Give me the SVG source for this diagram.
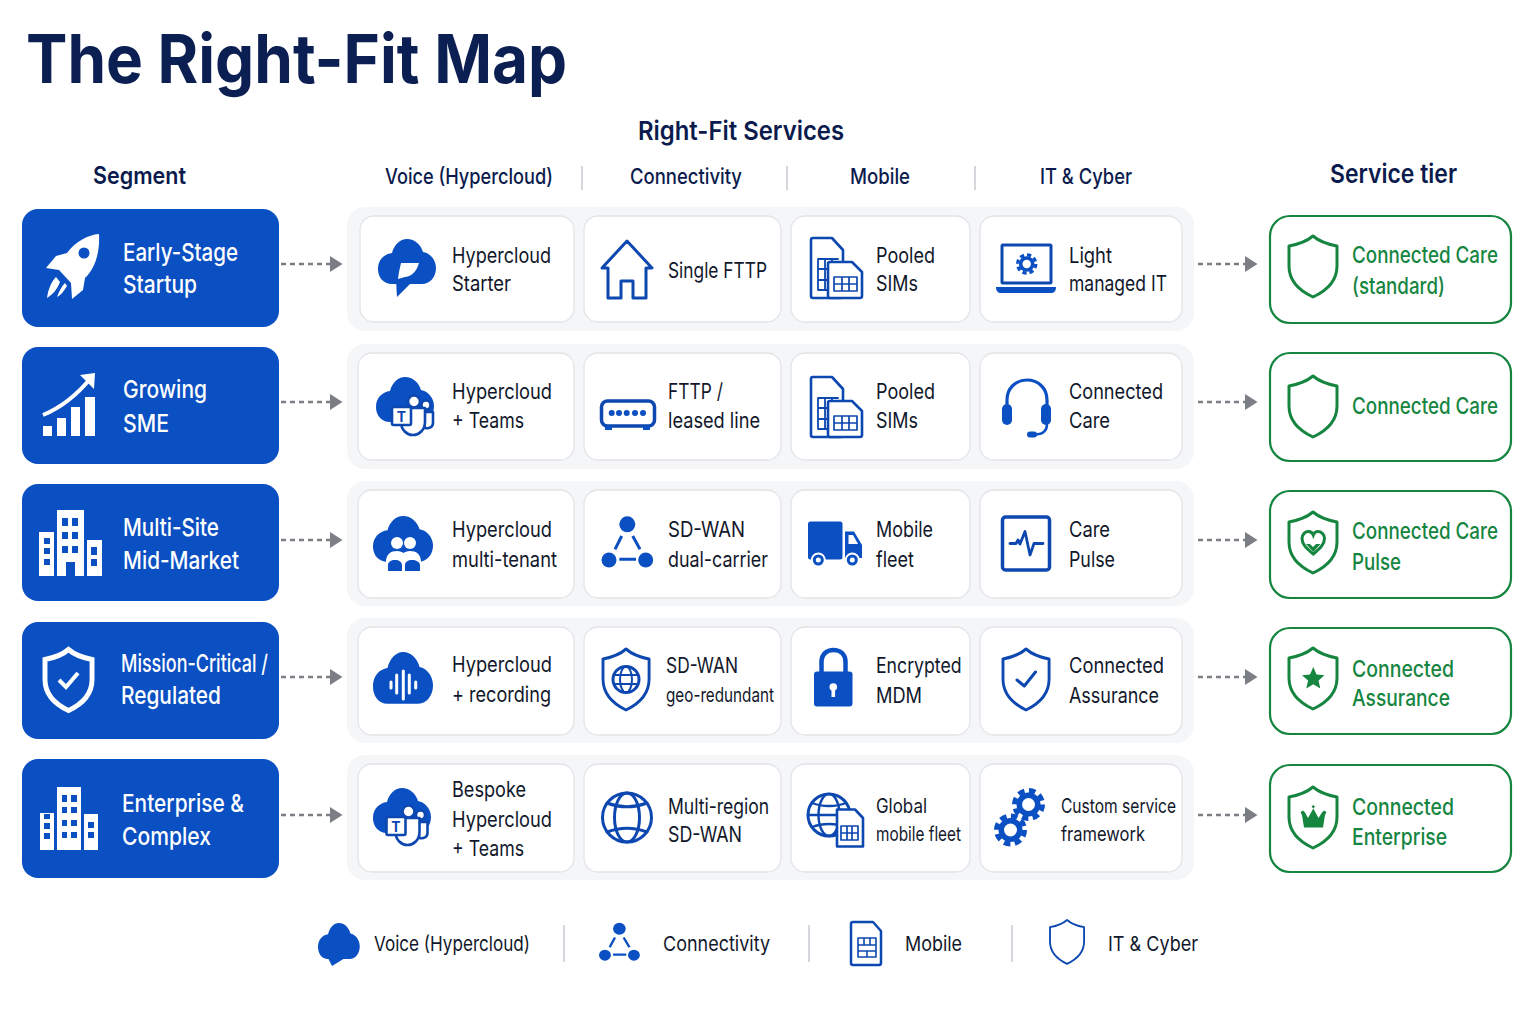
<svg xmlns="http://www.w3.org/2000/svg" width="1536" height="1024" viewBox="0 0 1536 1024">
<style>
text{font-family:"Inter","Liberation Sans",sans-serif}
.title{font-size:67px;font-weight:700;fill:#0b1f52}
.h1{font-size:26px;font-weight:600;fill:#0b1b4d}
.h2{font-size:22px;font-weight:500;fill:#0b1b4d}
.seg{font-size:24.500px;font-weight:500;fill:#fff}
.c{font-size:21.500px;font-weight:400;fill:#12182b}
.t{font-size:23px;font-weight:500;fill:#15853f}
.l{font-size:20.500px;font-weight:400;fill:#12182b}
.segbox{fill:#0b50c2}
.row{fill:#f4f6f8}
.card{fill:#fff;stroke:#e2e4e8;stroke-width:1.300}
.tier{fill:#fff;stroke:#15853f;stroke-width:2.200}
.sep{stroke:#c6cacf;stroke-width:1.500}
.conn{stroke:#7b7e85;stroke-width:2.500;stroke-dasharray:5 4;fill:none}
.b{fill:#0b50c2}
.bs{fill:none;stroke:#0d47b0;stroke-width:3;stroke-linejoin:round;stroke-linecap:round}
.bw{fill:#fff;stroke:#0d47b0;stroke-width:2.600;stroke-linejoin:round}
.g{fill:none;stroke:#15853f;stroke-width:3;stroke-linejoin:round}
.gf{fill:#15853f}
.w{fill:#fff}
</style>
<defs>
<marker id="arr" markerUnits="userSpaceOnUse" markerWidth="14" markerHeight="18" refX="1" refY="8" orient="auto"><path d="M0 0L12.500 8L0 16Z" fill="#7b7e85"/></marker>
<path id="shield" d="M24 0C31 6 40 8.500 48 10V30C48 45 37 55 24 61C11 55 0 45 0 30V10C8 8.500 17 6 24 0Z"/>
<path id="cloud" d="M14 45C5 45 0 38 0 30C0 21 6 15 14 14C16 6 22 0 29 0C37 0 43 6 45 13C52 14 58 21 58 29C58 38 52 45 44 45Z"/>
<g id="sim">
<path class="bs" style="stroke-width:2.600" d="M813 238H832L843 250V296Q843 298 841 298H813Q811 298 811 296V240Q811 238 813 238Z"/>
<path class="bs" style="stroke-width:1.800" d="M818 259H838M818 259V290H828M818 269H828M818 280H828M825 259V290M832 259V266"/>
<path class="bw" d="M830 262H852L862 272V296Q862 298 860 298H830Q828 298 828 296V264Q828 262 830 262Z"/>
<path class="bs" style="stroke-width:1.700" d="M834 277H857V291H834ZM834 284H857M842 277V291M849 277V291"/>
</g>
<g id="teams">
<circle class="bw" cx="34" cy="-2" r="4.500"/>
<path class="bw" d="M30 5H41V16C41 20 37 22 33 21Z"/>
<circle class="bw" cx="22" cy="-5.500" r="6"/>
<path class="bw" d="M9 1H33V15C33 23 27 28 21 28C15 28 9 23 9 15Z"/>
<rect class="bw" x="0" y="0" width="19" height="18" rx="1.500"/>
<text x="9.500" y="14.500" text-anchor="middle" style="font-size:14px;font-weight:700;fill:#0d47b0">T</text>
</g>
<g id="net">
<circle class="b" cx="25.800" cy="7.800" r="8"/><circle class="b" cx="7.500" cy="43.500" r="7.500"/><circle class="b" cx="44.200" cy="43.500" r="7.500"/>
<path d="M20.200 19.500L13.500 32.800M31.200 19.500L38.500 32.800M17.800 42.800H34.500" fill="none" stroke="#0b50c2" stroke-width="3"/>
</g>
<g id="gear">
<circle class="b" r="12"/>
<circle r="14" fill="none" stroke="#0b50c2" stroke-width="5" stroke-dasharray="6.500 4.500"/>
<circle class="w" r="6.500"/>
</g>
</defs>
<rect width="1536" height="1024" fill="#fff"/>

<g id="headers">
<text class="title" x="26" y="83" textLength="541" lengthAdjust="spacingAndGlyphs">The Right-Fit Map</text>
<text class="h1" x="638" y="140" textLength="206" lengthAdjust="spacingAndGlyphs">Right-Fit Services</text>
<text class="h1" x="93" y="184" textLength="93" lengthAdjust="spacingAndGlyphs" style="font-size:24px">Segment</text>
<text class="h2" x="385" y="184" textLength="168" lengthAdjust="spacingAndGlyphs">Voice (Hypercloud)</text>
<text class="h2" x="630" y="184" textLength="112" lengthAdjust="spacingAndGlyphs">Connectivity</text>
<text class="h2" x="850" y="184" textLength="60" lengthAdjust="spacingAndGlyphs">Mobile</text>
<text class="h2" x="1040" y="184" textLength="92" lengthAdjust="spacingAndGlyphs">IT &amp; Cyber</text>
<text class="h1" x="1330" y="183" textLength="127" lengthAdjust="spacingAndGlyphs">Service tier</text>
<path class="sep" d="M582 166V190M787 166V190M975 166V190"/>
</g>

<g id="row-bands">
<rect class="row" x="347" y="207" width="847" height="124" rx="18"/>
<rect class="row" x="347" y="344" width="847" height="125" rx="18"/>
<rect class="row" x="347" y="481" width="847" height="125" rx="18"/>
<rect class="row" x="347" y="618" width="847" height="125" rx="18"/>
<rect class="row" x="347" y="755" width="847" height="125" rx="18"/>
</g>

<g id="connectors">
<path class="conn" marker-end="url(#arr)" d="M281 264H331"/>
<path class="conn" marker-end="url(#arr)" d="M281 402H331"/>
<path class="conn" marker-end="url(#arr)" d="M281 540H331"/>
<path class="conn" marker-end="url(#arr)" d="M281 677H331"/>
<path class="conn" marker-end="url(#arr)" d="M281 815H331"/>
<path class="conn" marker-end="url(#arr)" d="M1198 264H1246"/>
<path class="conn" marker-end="url(#arr)" d="M1198 402H1246"/>
<path class="conn" marker-end="url(#arr)" d="M1198 540H1246"/>
<path class="conn" marker-end="url(#arr)" d="M1198 677H1246"/>
<path class="conn" marker-end="url(#arr)" d="M1198 815H1246"/>
</g>

<g id="seg-early">
<rect class="segbox" x="22" y="209" width="257" height="118" rx="16"/>
<path class="w" d="M99 234C88 235 76 241 67 253L56 256L46 268L59 270L71 283L72 299L83 290L85 278C96 268 100 250 99 234Z"/>
<circle class="b" cx="84" cy="253" r="5.500"/>
<path class="w" d="M47 298C48 290 51 282 56 277L60 282C57 290 52 295 47 298ZM57 297C59 291 62 286 65 283L67 286C64 291 61 295 57 297Z"/>
<text class="seg" x="123" y="261" textLength="115" lengthAdjust="spacingAndGlyphs">Early-Stage</text>
<text class="seg" x="123" y="293" textLength="74" lengthAdjust="spacingAndGlyphs">Startup</text>
</g>
<g id="seg-growing">
<rect class="segbox" x="22" y="347" width="257" height="117" rx="16"/>
<path class="w" d="M43 426H52V436H43ZM57 418H66V436H57ZM71 407H80V436H71ZM85 397H95V436H85Z"/>
<path d="M43 415C60 408 75 397 90 379" fill="none" stroke="#fff" stroke-width="4"/>
<path class="w" d="M95 373L80 375L94 389Z"/>
<text class="seg" x="123" y="398" textLength="84" lengthAdjust="spacingAndGlyphs">Growing</text>
<text class="seg" x="123" y="432" textLength="46" lengthAdjust="spacingAndGlyphs">SME</text>
</g>
<g id="seg-multisite">
<rect class="segbox" x="22" y="484" width="257" height="117" rx="16"/>
<path class="w" d="M39 532H54V576H39ZM57 510H84V576H75V562H66V576H57ZM87 540H102V576H87Z"/>
<path class="b" d="M62 518H68V526H62ZM72 518H78V526H72ZM62 532H68V539H62ZM72 532H78V539H72ZM62 546H68V553H62ZM72 546H78V553H72ZM44 538H50V544H44ZM44 548H50V554H44ZM44 559H50V565H44ZM91 547H97V555H91ZM91 559H97V566H91Z"/>
<text class="seg" x="123" y="536" textLength="96" lengthAdjust="spacingAndGlyphs">Multi-Site</text>
<text class="seg" x="123" y="569" textLength="116" lengthAdjust="spacingAndGlyphs">Mid-Market</text>
</g>
<g id="seg-mission">
<rect class="segbox" x="22" y="622" width="257" height="117" rx="16"/>
<use href="#shield" transform="translate(45 649.500) scale(.980 1)" fill="none" stroke="#fff" stroke-width="5"/>
<path d="M59 680L66 687L78 673" fill="none" stroke="#fff" stroke-width="4"/>
<text class="seg" x="121" y="672" textLength="147" lengthAdjust="spacingAndGlyphs">Mission-Critical /</text>
<text class="seg" x="121" y="704" textLength="100" lengthAdjust="spacingAndGlyphs">Regulated</text>
</g>
<g id="seg-enterprise">
<rect class="segbox" x="22" y="759" width="257" height="119" rx="16"/>
<path class="w" d="M40 813H54V850H40ZM57 787H81V850H57ZM84 814H98V850H84Z"/>
<path class="b" d="M62 795H67V802H62ZM71 795H77V802H71ZM62 807H67V813H62ZM71 807H77V813H71ZM62 820H67V826H62ZM71 820H77V826H71ZM62 832H67V838H62ZM71 832H77V838H71ZM44 814H50V819H44ZM44 823H50V829H44ZM44 833H50V839H44ZM88 822H94V828H88ZM88 832H94V838H88Z"/>
<text class="seg" x="122" y="812" textLength="122" lengthAdjust="spacingAndGlyphs">Enterprise &amp;</text>
<text class="seg" x="122" y="845" textLength="89" lengthAdjust="spacingAndGlyphs">Complex</text>
</g>

<g id="svc-r1-voice">
<rect class="card" x="360" y="216" width="214" height="106" rx="14"/>
<use href="#cloud" class="b" x="378" y="239"/>
<path class="b" d="M396 280L397 297L412 282Z"/>
<path class="w" d="M401 263L419 263C417 270 413 276 405 277L398 279L399 272Z"/>
<text class="c" x="452" y="262.500" textLength="99" lengthAdjust="spacingAndGlyphs">Hypercloud</text>
<text class="c" x="452" y="291" textLength="59" lengthAdjust="spacingAndGlyphs">Starter</text>
</g>
<g id="svc-r1-conn">
<rect class="card" x="584" y="216" width="197" height="106" rx="14"/>
<path class="bs" d="M608 268H602L627 241L652 268H646V298H633V281H621V298H608Z"/>
<text class="c" x="668" y="277.500" textLength="99" lengthAdjust="spacingAndGlyphs">Single FTTP</text>
</g>
<g id="svc-r1-mobile">
<rect class="card" x="791" y="216" width="179" height="106" rx="14"/>
<use href="#sim"/>
<text class="c" x="876" y="262.500" textLength="59" lengthAdjust="spacingAndGlyphs">Pooled</text>
<text class="c" x="876" y="291" textLength="42" lengthAdjust="spacingAndGlyphs">SIMs</text>
</g>
<g id="svc-r1-it">
<rect class="card" x="980" y="216" width="202" height="106" rx="14"/>
<rect class="bs" x="1002" y="245" width="49" height="38" rx="1"/>
<path class="b" d="M996 287H1056C1056 291 1054 293 1051 293H1001C998 293 996 291 996 287Z"/>
<use href="#gear" transform="translate(1026.700 264) scale(.650)"/>
<text class="c" x="1069" y="262.500" textLength="43" lengthAdjust="spacingAndGlyphs">Light</text>
<text class="c" x="1069" y="291" textLength="98" lengthAdjust="spacingAndGlyphs">managed IT</text>
</g>

<g id="svc-r2-voice">
<rect class="card" x="358" y="353" width="216" height="107" rx="14"/>
<use href="#cloud" class="b" x="376" y="377"/>
<use href="#teams" transform="translate(392 407)"/>
<text class="c" x="452" y="399" textLength="100" lengthAdjust="spacingAndGlyphs">Hypercloud</text>
<text class="c" x="452" y="428" textLength="72" lengthAdjust="spacingAndGlyphs">+ Teams</text>
</g>
<g id="svc-r2-conn">
<rect class="card" x="584" y="353" width="197" height="107" rx="14"/>
<rect x="601.500" y="401" width="53" height="25" rx="6" fill="none" stroke="#0d47b0" stroke-width="3.500"/>
<path class="b" d="M605 426H612V430H605ZM643 426H650V430H643Z"/>
<g class="b"><circle cx="611.700" cy="413" r="3"/><circle cx="619" cy="413" r="3"/><circle cx="626.700" cy="413" r="3"/><circle cx="635" cy="413" r="3"/><circle cx="643" cy="413" r="3"/></g>
<text class="c" x="668" y="399" textLength="55" lengthAdjust="spacingAndGlyphs">FTTP /</text>
<text class="c" x="668" y="428" textLength="92" lengthAdjust="spacingAndGlyphs">leased line</text>
</g>
<g id="svc-r2-mobile">
<rect class="card" x="791" y="353" width="179" height="107" rx="14"/>
<use href="#sim" y="139"/>
<text class="c" x="876" y="399" textLength="59" lengthAdjust="spacingAndGlyphs">Pooled</text>
<text class="c" x="876" y="428" textLength="42" lengthAdjust="spacingAndGlyphs">SIMs</text>
</g>
<g id="svc-r2-it">
<rect class="card" x="980" y="353" width="202" height="107" rx="14"/>
<path d="M1007 406V400C1007 388 1016 380 1027 380C1038 380 1047 388 1047 400V406" fill="none" stroke="#0b50c2" stroke-width="3.200"/>
<rect class="b" x="1002" y="404" width="10" height="21" rx="5"/>
<rect class="b" x="1041" y="404" width="10" height="21" rx="5"/>
<path d="M1047 424C1047 431 1043 434 1036 434.500" fill="none" stroke="#0b50c2" stroke-width="2.500"/>
<rect class="b" x="1027" y="431.500" width="10" height="6" rx="3"/>
<text class="c" x="1069" y="399" textLength="94" lengthAdjust="spacingAndGlyphs">Connected</text>
<text class="c" x="1069" y="428" textLength="41" lengthAdjust="spacingAndGlyphs">Care</text>
</g>

<g id="svc-r3-voice">
<rect class="card" x="358" y="490" width="216" height="108" rx="14"/>
<use href="#cloud" class="b" transform="translate(373 516) scale(1.035 1.020)"/>
<circle class="w" cx="397" cy="543" r="6"/><circle class="w" cx="410" cy="543" r="6"/>
<path class="w" d="M386 562C386 554 391 551 397 551C400 551 402 552 403.500 553C405 552 407 551 410 551C416 551 421 554 421 562Z"/>
<path class="b" d="M388 571V565C388 562 391 560 395 560C399 560 402 562 402 565V571ZM405 571V565C405 562 408 560 412 560C416 560 420 562 420 565V571Z"/>
<text class="c" x="452" y="537" textLength="100" lengthAdjust="spacingAndGlyphs">Hypercloud</text>
<text class="c" x="452" y="566.500" textLength="105" lengthAdjust="spacingAndGlyphs">multi-tenant</text>
</g>
<g id="svc-r3-conn">
<rect class="card" x="584" y="490" width="197" height="108" rx="14"/>
<use href="#net" x="601.500" y="516.500"/>
<text class="c" x="668" y="537" textLength="77" lengthAdjust="spacingAndGlyphs">SD-WAN</text>
<text class="c" x="668" y="567" textLength="100" lengthAdjust="spacingAndGlyphs">dual-carrier</text>
</g>
<g id="svc-r3-mobile">
<rect class="card" x="791" y="490" width="179" height="108" rx="14"/>
<rect class="b" x="808" y="521.500" width="34.500" height="38" rx="2.500"/>
<path class="b" d="M845 531.500H854L862 545V558H845Z"/>
<path class="w" d="M848.500 535H853L858 544H848.500Z"/>
<circle class="b" cx="818.300" cy="560" r="6.500" stroke="#fff" stroke-width="2"/><circle class="w" cx="818.300" cy="560" r="2.500"/>
<circle class="b" cx="852.300" cy="560" r="6.500" stroke="#fff" stroke-width="2"/><circle class="w" cx="852.300" cy="560" r="2.500"/>
<text class="c" x="876" y="537" textLength="57" lengthAdjust="spacingAndGlyphs">Mobile</text>
<text class="c" x="876" y="567" textLength="38" lengthAdjust="spacingAndGlyphs">fleet</text>
</g>
<g id="svc-r3-it">
<rect class="card" x="980" y="490" width="202" height="108" rx="14"/>
<rect class="bs" style="stroke-width:3.500" x="1002.500" y="517" width="47" height="53" rx="3"/>
<path class="bs" style="stroke-width:2.800" d="M1010 543.500H1016L1018 540L1020 544L1025 531.500L1030 555L1034 543.500H1043"/>
<text class="c" x="1069" y="537" textLength="41" lengthAdjust="spacingAndGlyphs">Care</text>
<text class="c" x="1069" y="567" textLength="46" lengthAdjust="spacingAndGlyphs">Pulse</text>
</g>

<g id="svc-r4-voice">
<rect class="card" x="358" y="627" width="216" height="108" rx="14"/>
<use href="#cloud" class="b" transform="translate(373 652) scale(1.035 1.150)"/>
<path d="M391 682V688M396.700 675V693M403.300 671V699M409.300 675V693M415.700 682V688" fill="none" stroke="#fff" stroke-width="3" stroke-linecap="round"/>
<text class="c" x="452" y="672" textLength="100" lengthAdjust="spacingAndGlyphs">Hypercloud</text>
<text class="c" x="452" y="702" textLength="99" lengthAdjust="spacingAndGlyphs">+ recording</text>
</g>
<g id="svc-r4-conn">
<rect class="card" x="584" y="627" width="197" height="108" rx="14"/>
<use href="#shield" class="bs" transform="translate(603 649) scale(.960 1)"/>
<circle class="bs" cx="626" cy="679.500" r="13"/>
<ellipse class="bs" style="stroke-width:2" cx="626" cy="679.500" rx="6" ry="13"/>
<path class="bs" style="stroke-width:2" d="M614 675H638M614 684H638"/>
<text class="c" x="666" y="673" textLength="72" lengthAdjust="spacingAndGlyphs">SD-WAN</text>
<text class="c" x="666" y="702" textLength="108" lengthAdjust="spacingAndGlyphs" style="font-size:20px">geo-redundant</text>
</g>
<g id="svc-r4-mobile">
<rect class="card" x="791" y="627" width="179" height="108" rx="14"/>
<path d="M821.500 673V662C821.500 654 827 650 833.300 650C840 650 845.500 654 845.500 662V673" fill="none" stroke="#0b50c2" stroke-width="4.500"/>
<rect class="b" x="814" y="671.500" width="38.500" height="35" rx="3"/>
<circle class="w" cx="833.300" cy="687" r="3.800"/><rect class="w" x="831.500" y="688" width="3.600" height="9"/>
<text class="c" x="876" y="673" textLength="85.500" lengthAdjust="spacingAndGlyphs">Encrypted</text>
<text class="c" x="876" y="703" textLength="46" lengthAdjust="spacingAndGlyphs">MDM</text>
</g>
<g id="svc-r4-it">
<rect class="card" x="980" y="627" width="202" height="108" rx="14"/>
<use href="#shield" class="bs" transform="translate(1003 649) scale(.960 1)"/>
<path class="bs" d="M1017 680L1024.300 686L1035.500 672"/>
<text class="c" x="1069" y="672.500" textLength="95" lengthAdjust="spacingAndGlyphs">Connected</text>
<text class="c" x="1069" y="703" textLength="90" lengthAdjust="spacingAndGlyphs">Assurance</text>
</g>

<g id="svc-r5-voice">
<rect class="card" x="358" y="764" width="216" height="108" rx="14"/>
<use href="#cloud" class="b" x="373" y="788"/>
<use href="#teams" transform="translate(386.500 817)"/>
<text class="c" x="452" y="797" textLength="74" lengthAdjust="spacingAndGlyphs">Bespoke</text>
<text class="c" x="452" y="827" textLength="100" lengthAdjust="spacingAndGlyphs">Hypercloud</text>
<text class="c" x="452" y="856" textLength="72" lengthAdjust="spacingAndGlyphs">+ Teams</text>
</g>
<g id="svc-r5-conn">
<rect class="card" x="584" y="764" width="197" height="108" rx="14"/>
<circle class="bs" cx="627" cy="817.500" r="24.500"/>
<ellipse class="bs" cx="627" cy="817.500" rx="12.500" ry="24.500"/>
<path class="bs" d="M607 803C620 808 634 808 647 803M607 832C620 827 634 827 647 832"/>
<text class="c" x="668" y="814" textLength="101" lengthAdjust="spacingAndGlyphs">Multi-region</text>
<text class="c" x="668" y="842" textLength="74" lengthAdjust="spacingAndGlyphs">SD-WAN</text>
</g>
<g id="svc-r5-mobile">
<rect class="card" x="791" y="764" width="179" height="108" rx="14"/>
<circle class="bs" cx="829" cy="815" r="21"/>
<ellipse class="bs" style="stroke-width:2.400" cx="829" cy="815" rx="10.500" ry="21"/>
<path class="bs" style="stroke-width:2.400" d="M812 803C822 807 836 807 846 803M812 827C822 823 836 823 846 827M808 815H850"/>
<path class="bw" d="M837 809.500H855L863 818V846.500H837Z"/>
<path class="bs" style="stroke-width:1.700" d="M841 826H858V840H841ZM841 833H858M847 826V840M852 826V840"/>
<text class="c" x="876" y="813" textLength="51" lengthAdjust="spacingAndGlyphs" style="font-size:20px">Global</text>
<text class="c" x="876" y="841" textLength="85" lengthAdjust="spacingAndGlyphs" style="font-size:20px">mobile fleet</text>
</g>
<g id="svc-r5-it">
<rect class="card" x="980" y="764" width="202" height="108" rx="14"/>
<use href="#gear" transform="translate(1028.500 804.500)"/>
<use href="#gear" transform="translate(1010.500 830)"/>
<text class="c" x="1061" y="813" textLength="115" lengthAdjust="spacingAndGlyphs" style="font-size:20px">Custom service</text>
<text class="c" x="1061" y="841" textLength="84" lengthAdjust="spacingAndGlyphs" style="font-size:20px">framework</text>
</g>

<g id="tier-1">
<rect class="tier" x="1270" y="216" width="241" height="107" rx="20"/>
<use href="#shield" class="g" x="1289" y="236"/>
<text class="t" x="1352" y="263" textLength="146" lengthAdjust="spacingAndGlyphs">Connected Care</text>
<text class="t" x="1352" y="294" textLength="93" lengthAdjust="spacingAndGlyphs">(standard)</text>
</g>
<g id="tier-2">
<rect class="tier" x="1270" y="353" width="241" height="108" rx="20"/>
<use href="#shield" class="g" x="1289" y="376"/>
<text class="t" x="1352" y="414" textLength="146" lengthAdjust="spacingAndGlyphs">Connected Care</text>
</g>
<g id="tier-3">
<rect class="tier" x="1270" y="491" width="241" height="107" rx="20"/>
<use href="#shield" class="g" x="1289" y="512"/>
<path d="M1313.300 554C1306 548 1302 544 1302 538.500C1302 534 1305.500 531.500 1308.500 531.500C1311 531.500 1312.500 533 1313.300 535C1314 533 1315.500 531.500 1318 531.500C1321 531.500 1324.500 534 1324.500 538.500C1324.500 544 1320.500 548 1313.300 554Z" fill="none" stroke="#15853f" stroke-width="3"/>
<path class="gf" d="M1306 544L1310 544L1313 547L1316 544L1320.500 544L1313.300 552Z"/>
<text class="t" x="1352" y="539" textLength="146" lengthAdjust="spacingAndGlyphs">Connected Care</text>
<text class="t" x="1352" y="570" textLength="49" lengthAdjust="spacingAndGlyphs">Pulse</text>
</g>
<g id="tier-4">
<rect class="tier" x="1270" y="628" width="241" height="106" rx="20"/>
<use href="#shield" class="g" x="1289" y="648"/>
<path class="gf" d="M1313.300 667L1316.500 674.500L1324.500 675.300L1318.500 680.500L1320.300 688.500L1313.300 684.300L1306.300 688.500L1308.100 680.500L1302 675.300L1310 674.500Z"/>
<text class="t" x="1352" y="677" textLength="102" lengthAdjust="spacingAndGlyphs">Connected</text>
<text class="t" x="1352" y="706" textLength="98" lengthAdjust="spacingAndGlyphs">Assurance</text>
</g>
<g id="tier-5">
<rect class="tier" x="1270" y="765" width="241" height="107" rx="20"/>
<use href="#shield" class="g" x="1289" y="787"/>
<path class="gf" d="M1302 815L1300.500 812L1303 810.500L1305 812.500L1308 818L1313.300 808.500L1311.500 806.500L1313.300 805L1315 806.500L1313.300 808.500L1318.500 818L1322 812.500L1324 810.500L1326.500 812L1325 815L1323 827.500H1304Z"/>
<text class="t" x="1352" y="815" textLength="102" lengthAdjust="spacingAndGlyphs">Connected</text>
<text class="t" x="1352" y="845" textLength="95" lengthAdjust="spacingAndGlyphs">Enterprise</text>
</g>

<g id="legend">
<use href="#cloud" class="b" transform="translate(318 923) scale(.720 .800)"/>
<path class="b" d="M328 958L332 966L345 958Z"/>
<text class="l" x="374" y="951" textLength="156" lengthAdjust="spacingAndGlyphs">Voice (Hypercloud)</text>
<use href="#net" transform="translate(599 923) scale(.790 .740)"/>
<text class="l" x="663" y="951" textLength="107" lengthAdjust="spacingAndGlyphs">Connectivity</text>
<path class="bs" style="stroke-width:2.500" d="M853 922H873L881 931V963Q881 965 879 965H853Q851 965 851 963V924Q851 922 853 922Z"/>
<path class="bs" style="stroke-width:1.600" d="M858 938H876V957H858ZM858 945H876M858 951H876M864 938V945M870 938V945M867 951V957"/>
<text class="l" x="905" y="951" textLength="57" lengthAdjust="spacingAndGlyphs">Mobile</text>
<use href="#shield" class="bs" style="stroke-width:2.600" transform="translate(1050 920) scale(.710 .720)"/>
<text class="l" x="1108" y="951" textLength="90" lengthAdjust="spacingAndGlyphs">IT &amp; Cyber</text>
<path class="sep" d="M564 925V962M809 925V962M1012 925V962"/>
</g>
</svg>
